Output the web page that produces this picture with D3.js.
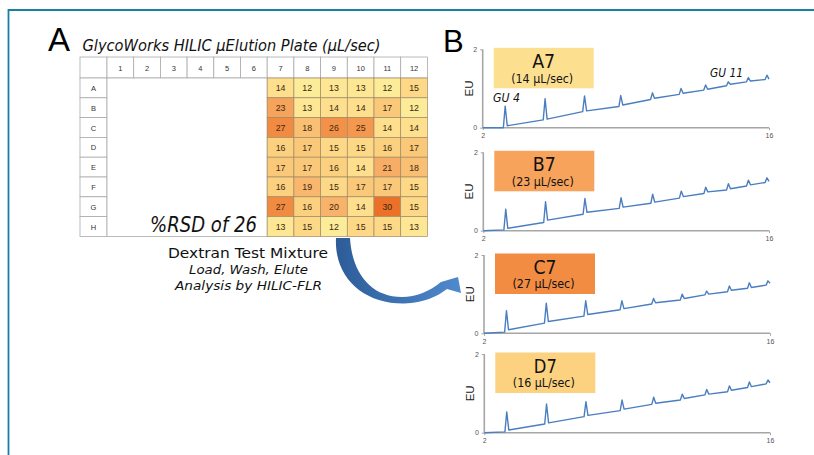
<!DOCTYPE html>
<html><head><meta charset="utf-8">
<script src="https://cdn.jsdelivr.net/npm/d3@7/dist/d3.min.js"></script>
<style>
html,body{margin:0;padding:0;background:#fff;}
svg{display:block;}
</style></head>
<body>
<svg id="chart" width="814" height="455"></svg>
<script>
// ---------- DATA ----------
const plateRows = ["A","B","C","D","E","F","G","H"];
const plateCols = ["1","2","3","4","5","6","7","8","9","10","11","12"];
const filledCols = ["7","8","9","10","11","12"];
const flowA = [14,12,13,13,12,15];
const flowB = [23,13,14,14,17,12];
const flowC = [27,18,26,25,14,14];
const flowD = [16,17,15,15,16,17];
const flowE = [17,17,16,14,21,18];
const flowF = [16,19,15,17,17,15];
const flowG = [27,16,20,14,30,15];
const flowH = [13,15,12,15,15,13];
const plateValues = [flowA,flowB,flowC,flowD,flowE,flowF,flowG,flowH];
const rsdText = "%RSD of 26";

const wells = ["A7","B7","C7","D7"];
const wellFlows = [14,23,27,16];
const xTicks = [2,16];
const yTicks = [0,2];
const peakTimes = [3.1,5.05,6.98,8.75,10.3,11.7,12.9,14.01,14.99,15.9];
// baseline just before each peak, peak apex, baseline just after each peak (EU)
const beforeA7 = [0.00,0.20,0.41,0.54,0.72,0.85,0.96,1.07,1.17,1.23];
const apexA7   = [0.55,0.74,0.81,0.82,0.89,1.00,1.09,1.17,1.28,1.34];
const afterA7  = [0.05,0.22,0.43,0.58,0.75,0.88,0.98,1.11,1.19,1.24];
const beforeB7 = [0.02,0.21,0.42,0.57,0.70,0.83,0.95,1.04,1.14,1.23];
const apexB7   = [0.55,0.74,0.82,0.84,0.93,1.01,1.11,1.20,1.29,1.35];
const afterB7  = [0.06,0.27,0.47,0.60,0.73,0.87,0.99,1.07,1.17,1.26];
const beforeC7 = [0.03,0.26,0.44,0.60,0.75,0.85,0.98,1.06,1.15,1.23];
const apexC7   = [0.58,0.77,0.83,0.83,0.89,1.00,1.08,1.21,1.29,1.34];
const afterC7  = [0.09,0.30,0.48,0.63,0.78,0.89,1.00,1.10,1.17,1.28];
const beforeD7 = [0.02,0.22,0.41,0.56,0.72,0.83,0.96,1.04,1.15,1.24];
const apexD7   = [0.53,0.73,0.79,0.83,0.90,0.98,1.10,1.19,1.29,1.34];
const afterD7  = [0.07,0.25,0.44,0.60,0.75,0.87,0.98,1.08,1.17,1.27];
const beforeAll = [beforeA7,beforeB7,beforeC7,beforeD7];
const apexAll = [apexA7,apexB7,apexC7,apexD7];
const afterAll = [afterA7,afterB7,afterC7,afterD7];

// ---------- DRAW ----------
const svg = d3.select("#chart");
const VER = "'DejaVu Sans', Verdana, sans-serif";
const ARI = "'Liberation Sans', Arial, sans-serif";

function fitLen(sel, w){
  sel.attr("textLength", w).attr("lengthAdjust","spacingAndGlyphs");
  return sel;
}

// frame
svg.append("line").attr("x1",8.5).attr("y1",9).attr("x2",8.5).attr("y2",455).attr("stroke","#1a7fa5").attr("stroke-width",1.8);
svg.append("line").attr("x1",8).attr("y1",10).attr("x2",814).attr("y2",10).attr("stroke","#1a7fa5").attr("stroke-width",1.8);

// Panel letters
svg.append("text").attr("x",48).attr("y",51).attr("font-family",ARI).attr("font-size",33).attr("fill","#000").text("A");
svg.append("text").attr("x",443).attr("y",52).attr("font-family",ARI).attr("font-size",31).attr("fill","#000").text("B");

fitLen(svg.append("text").attr("x",82.5).attr("y",50.5).attr("font-family",VER).attr("font-style","italic")
  .attr("font-size",15.5).attr("fill","#111").text("GlycoWorks HILIC µElution Plate (µL/sec)"), 298);

// Plate table
const tL = 80, labW = 27, colW = 26.7, tT = 57, headH = 21, rowH = 19.8;
const xCol = d3.scaleBand().domain(plateCols).range([tL+labW, tL+labW+colW*12]);
const yRow = d3.scaleBand().domain(plateRows).range([tT+headH, tT+headH+rowH*8]);
const color = d3.scaleLinear().domain([12,14,16,19,23,27,30])
  .range(["#fcec9a","#fddf8e","#fbd07f","#f8b76d","#f6a35c","#f28b42","#eb7028"]);
const grid = svg.append("g");
grid.append("rect").attr("x",tL).attr("y",tT).attr("width",labW).attr("height",headH).attr("fill","#fff").attr("stroke","#aaa").attr("stroke-width",0.8);
plateCols.forEach(c=>{
  grid.append("rect").attr("x",xCol(c)).attr("y",tT).attr("width",xCol.bandwidth()).attr("height",headH)
    .attr("fill","#fff").attr("stroke","#aaa").attr("stroke-width",0.8);
  grid.append("text").attr("x",xCol(c)+xCol.bandwidth()/2).attr("y",tT+headH/2+3).attr("text-anchor","middle")
    .attr("font-family",ARI).attr("font-size",7.5).attr("fill","#333").text(c);
});
plateRows.forEach(r=>{
  grid.append("rect").attr("x",tL).attr("y",yRow(r)).attr("width",labW).attr("height",rowH)
    .attr("fill","#fff").attr("stroke","#aaa").attr("stroke-width",0.8);
  grid.append("text").attr("x",tL+labW/2).attr("y",yRow(r)+rowH/2+3).attr("text-anchor","middle")
    .attr("font-family",ARI).attr("font-size",7.5).attr("fill","#333").text(r);
});
grid.append("rect").attr("x",tL+labW).attr("y",tT+headH).attr("width",colW*6).attr("height",rowH*8)
  .attr("fill","#fff").attr("stroke","#aaa").attr("stroke-width",0.8);
plateRows.forEach((r,i)=>{
  filledCols.forEach((c,j)=>{
    const v = plateValues[i][j];
    grid.append("rect").attr("x",xCol(c)).attr("y",yRow(r)).attr("width",xCol.bandwidth()).attr("height",rowH)
      .attr("fill",color(v)).attr("stroke","#a08a66").attr("stroke-width",0.7);
    grid.append("text").attr("x",xCol(c)+xCol.bandwidth()/2).attr("y",yRow(r)+rowH/2+3.5).attr("text-anchor","middle")
      .attr("font-family",ARI).attr("font-size",8.8).attr("fill","#3a2a10").text(v);
  });
});

// %RSD
fitLen(svg.append("text").attr("x",150).attr("y",232).attr("font-family",VER).attr("font-style","italic")
  .attr("font-size",20.5).attr("fill","#111").text(rsdText), 107);

// Dextran texts
fitLen(svg.append("text").attr("x",168).attr("y",258).attr("font-family",VER)
  .attr("font-size",14.5).attr("fill","#111").text("Dextran Test Mixture"),160);
fitLen(svg.append("text").attr("x",189).attr("y",274).attr("font-family",VER).attr("font-style","italic")
  .attr("font-size",12).attr("fill","#111").text("Load, Wash, Elute"),119);
fitLen(svg.append("text").attr("x",175).attr("y",290).attr("font-family",VER).attr("font-style","italic")
  .attr("font-size",12).attr("fill","#111").text("Analysis by HILIC-FLR"),147);

// curved arrow
const defs = svg.append("defs");
const gr = defs.append("linearGradient").attr("id","arrowGrad").attr("x1","0").attr("y1","0").attr("x2","1").attr("y2","0");
gr.append("stop").attr("offset","0").attr("stop-color","#2d5c98");
gr.append("stop").attr("offset","1").attr("stop-color","#4f8ace");
svg.append("path").attr("fill","url(#arrowGrad)")
  .attr("d","M336,238 C334,278 364,304 404,303.5 C424,303 438,296 447,289 L461,293 L458,277 L441,282 " +
            "C430,291 416,297 402,297 C370,297 352,272 350,238 Z");

// Chromatograms
const charts = [
  {left:482.7, top:49.3, bottom:127.7, right:769},
  {left:483.3, top:152.3, bottom:230.7, right:769},
  {left:484, top:255, bottom:333.3, right:770},
  {left:484.3, top:354, bottom:432.7, right:770}
];
const boxColor = d3.scaleLinear().domain([14,16,23,27]).range(["#fde08f","#fcd17f","#f7a35c","#f28c42"]);
wells.forEach((w,k)=>{
  const c = charts[k];
  const x = d3.scaleLinear().domain([2,16]).range([c.left,c.right]);
  const y = d3.scaleLinear().domain([0,2]).range([c.bottom,c.top]);
  const g = svg.append("g");
  g.append("rect").attr("x",c.left+11).attr("y",c.top-1.5).attr("width",100).attr("height",40.5).attr("fill",boxColor(wellFlows[k]));
  fitLen(g.append("text").attr("x",c.left+49.5).attr("y",c.top+19).attr("font-family",VER)
    .attr("font-size",19).attr("fill","#111").text(w), 23);
  fitLen(g.append("text").attr("x",c.left+28.5).attr("y",c.top+33.2).attr("font-family",VER)
    .attr("font-size",12).attr("fill","#111").text("(" + wellFlows[k] + " µL/sec)"), 62);
  const ya = g.append("g").attr("transform",`translate(${c.left},0)`)
    .call(d3.axisLeft(y).tickValues(yTicks).tickSize(2.5).tickPadding(3).tickFormat(d3.format("d")));
  const xa = g.append("g").attr("transform",`translate(0,${c.bottom})`)
    .call(d3.axisBottom(x).tickValues(xTicks).tickSize(2.5).tickPadding(3).tickFormat(d3.format("d")));
  [ya,xa].forEach(a=>{
    a.select(".domain").attr("stroke","#a6a6a6").attr("stroke-width",1.6);
    a.selectAll(".tick line").attr("stroke","#a6a6a6");
    a.selectAll(".tick text").attr("font-family",ARI).attr("font-size",7).attr("fill","#555");
  });
  xa.select(".domain").attr("d",`M${c.left},0H${c.right}`);
  ya.select(".domain").attr("d",`M0,${y(2)}V${y(0)}`);
  g.append("text").attr("transform",`translate(${c.left-10},${(c.top+c.bottom)/2}) rotate(-90)`)
    .attr("text-anchor","middle").attr("font-family",ARI).attr("font-size",11.5).attr("fill","#222").text("EU");
  const pts = [[2,0]];
  peakTimes.forEach((t,i)=>{
    pts.push([t-0.09, beforeAll[k][i]]);
    pts.push([t, apexAll[k][i]]);
    pts.push([Math.min(t+0.1,16), afterAll[k][i]]);
  });
  if(pts[pts.length-1][0] < 16) pts.push([16, afterAll[k][afterAll[k].length-1]]);
  g.append("path").datum(pts).attr("fill","none").attr("stroke","#4a7ec0").attr("stroke-width",1.4)
    .attr("stroke-linejoin","round")
    .attr("d", d3.line().x(d=>x(d[0])).y(d=>y(d[1])));
  if(k===0){
    fitLen(g.append("text").attr("x",493).attr("y",101.5)
      .attr("font-family",VER).attr("font-style","italic").attr("font-size",12).attr("fill","#111").text("GU 4"), 27);
    fitLen(g.append("text").attr("x",710).attr("y",77)
      .attr("font-family",VER).attr("font-style","italic").attr("font-size",12).attr("fill","#111").text("GU 11"), 33);
  }
});
</script>
</body></html>
